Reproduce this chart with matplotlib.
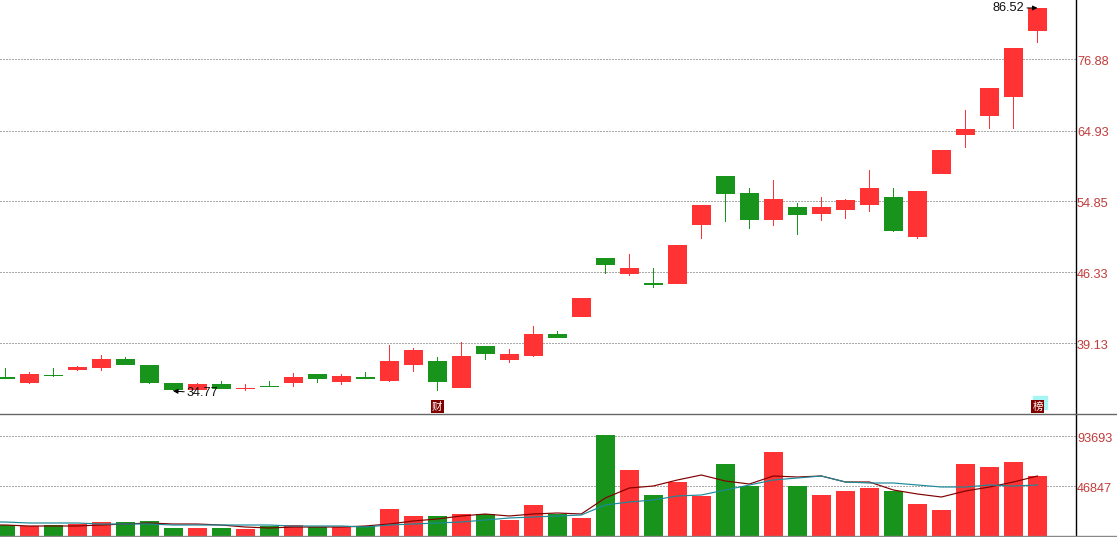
import matplotlib
matplotlib.use('Agg')
import matplotlib.pyplot as plt
import numpy as np
from matplotlib.lines import Line2D
from matplotlib.patches import Rectangle
from matplotlib.ticker import NullLocator, NullFormatter
from matplotlib.transforms import IdentityTransform, ScaledTranslation

plt.rcParams['font.family'] = ['Liberation Sans', 'DejaVu Sans']

opens = [36.13, 35.62, 36.31, 36.74, 36.92, 37.71, 37.18, 35.62, 35.03, 35.54, 35.12,
         35.37, 35.62, 36.39, 35.71, 36.13, 35.79, 37.18, 37.53, 35.20, 38.90, 37.62,
         37.98, 40.02, 41.67, 47.95, 46.16, 45.19, 45.08, 51.87, 58.27, 55.97, 52.49,
         54.13, 53.24, 53.75, 54.39, 55.44, 50.41, 58.55, 64.24, 67.21, 70.32, 82.27]
closes = [35.96, 36.39, 36.22, 37.01, 37.71, 37.18, 35.62, 35.03, 35.54, 35.12, 35.20,
          35.28, 36.13, 35.96, 36.22, 35.96, 37.53, 38.53, 35.71, 37.98, 38.16, 38.16,
          40.02, 39.64, 43.60, 47.16, 46.83, 44.97, 49.46, 54.39, 55.84, 52.49, 55.17,
          53.11, 54.13, 55.04, 56.64, 51.13, 56.24, 61.99, 65.17, 71.84, 79.01, 86.90]
highs = [36.92, 36.57, 36.92, 37.10, 38.07, 37.89, 37.18, 35.62, 35.62, 35.79, 35.54,
         35.79, 36.48, 36.39, 36.39, 36.57, 39.00, 38.71, 37.89, 39.27, 38.90, 38.62,
         40.79, 40.31, 43.60, 47.95, 48.41, 46.83, 49.46, 54.39, 58.27, 56.64, 57.72,
         54.65, 55.44, 55.17, 59.11, 56.64, 56.24, 61.99, 68.18, 71.84, 79.01, 86.90]
lows = [35.96, 35.54, 36.13, 36.65, 36.65, 37.18, 35.54, 34.95, 35.03, 35.12, 34.95,
        35.28, 35.28, 35.62, 35.45, 35.96, 35.71, 36.57, 34.95, 35.20, 37.62, 37.36,
        37.89, 39.64, 41.67, 46.16, 45.94, 44.65, 45.08, 50.17, 52.24, 51.38, 51.74,
        50.65, 52.36, 52.61, 53.49, 51.01, 50.17, 58.55, 62.29, 65.17, 65.17, 79.95]

volumes = [10300, 9370, 10300, 11240, 13120, 13120, 14060, 7500, 7500, 7500, 6560,
           9370, 10300, 8430, 8430, 9370, 25300, 18740, 18740, 20610, 20610, 14990,
           29050, 20610, 16870, 94600, 61800, 38420, 50600, 37480, 67500, 46850,
           78700, 46850, 38420, 42170, 44980, 42170, 29980, 24360, 67500, 64650,
           69300, 56220]
# both averages start one bar left of the window
ma_short = [10300, 10300, 9370, 9370, 9370, 10300, 11240, 12180, 11240, 11240, 10300, 8430,
            7500, 8430, 8430, 8430, 9370, 11240, 14060, 15930, 18740, 20610, 18740,
            20610, 21550, 20610, 35610, 44980, 46850, 52470, 57160, 51540, 48720,
            56220, 55280, 56220, 50600, 50600, 43100, 39350, 36540, 42170, 45910,
            50600, 56220]
ma_long = [13120, 13120, 12180, 12180, 12180, 11240, 11240, 11240, 10300, 10300, 10300, 10300,
           10300, 9370, 9370, 9370, 8430, 10300, 11240, 12180, 13120, 14990, 16870,
           17800, 18740, 19680, 29050, 31860, 33730, 37480, 38420, 43100, 47790,
           52470, 54350, 56220, 50600, 49660, 49660, 47790, 45910, 45910, 47790,
           46850, 47790]

price_ticks = [39.13, 46.33, 54.85, 64.93, 76.88]
price_labels = ['39.13', '46.33', '54.85', '64.93', '76.88']
volume_ticks = [46847, 93693]
volume_labels = ['46847', '93693']
low_label = '34.77'
high_label = '86.52'

RED = '#ff3333'
GREEN = '#18941c'
TICK = '#c23b3b'
W, H = 1117, 537
x = np.arange(len(opens))
x_ma = np.arange(-1, len(opens))
xlim = (-5 / 24, 1070 / 24)

fig = plt.figure(figsize=(W / 100, H / 100), dpi=100)
ax = fig.add_axes([0, (H - 414) / H, 1075.5 / W, 414 / H])
vax = fig.add_axes([0, (H - 536) / H, 1075.5 / W, 121 / H])

colors = [RED if c >= o else GREEN for o, c in zip(opens, closes)]
tops = np.maximum(opens, closes)
bottoms = np.minimum(opens, closes)

# wicks as one pixel wide bars, lines come out grey here
ax.bar(x, np.array(highs) - np.array(lows), bottom=lows, width=1 / 24, color=colors, antialiased=False, zorder=2)
ax.bar(x, tops - bottoms, bottom=bottoms, width=19 / 24, color=colors, antialiased=False, zorder=3)
ax.set_yscale('log')
ax.set_ylim(33.09, 88.56)
ax.set_yticks(price_ticks, labels=price_labels)
ax.yaxis.set_minor_locator(NullLocator())
ax.yaxis.set_minor_formatter(NullFormatter())

vax.bar(x, volumes, width=19 / 24, color=colors, antialiased=False, zorder=3)
vax.plot(x_ma, ma_short, color='#800000', linewidth=0.85, zorder=4)
vax.plot(x_ma, ma_long, color='#1a8a9a', linewidth=0.85, zorder=4)
vax.set_ylim(0, 113380)
vax.set_yticks(volume_ticks, labels=volume_labels)

# labels sit a pixel lower than matplotlib centres them
nudge = ScaledTranslation(0, -1 / 100, fig.dpi_scale_trans)
for a in (ax, vax):
    a.set_xlim(xlim)
    a.set_xticks([])
    a.yaxis.tick_right()
    a.tick_params(axis='y', length=0, pad=1, labelsize=9.2, labelcolor=TICK)
    a.grid(axis='y', color='#555555', linewidth=0.72, linestyle=(0, (1, 2)))
    a.set_axisbelow(True)
    a.patch.set_alpha(0)
    for s in ('top', 'left', 'bottom'):
        a.spines[s].set_visible(False)
    a.spines['right'].set_color('black')
    a.spines['right'].set_linewidth(1.0)
    for t in a.get_yticklabels():
        t.set_transform(t.get_transform() + nudge)

# separators run the whole width, past the axis line
fig.add_artist(Line2D([0, W], [H - 414, H - 414], color='#666666', linewidth=1.0, transform=IdentityTransform()))
fig.add_artist(Line2D([0, W], [H - 535.5, H - 535.5], color='#888888', linewidth=1.0, transform=IdentityTransform()))

arrow = dict(arrowstyle='-|>,head_length=0.3,head_width=0.15', color='black', linewidth=0.72, shrinkA=0, shrinkB=0)
ax.annotate(high_label, xy=(43, highs[43]), xytext=(-9.5, 0), textcoords='offset points',
            ha='right', va='center', fontsize=9.2, color='#111111', arrowprops=arrow, zorder=5)
ax.annotate(low_label, xy=(7, lows[7]), xytext=(10, -1.5), textcoords='offset points',
            ha='left', va='center', fontsize=9.2, color='#111111', arrowprops=arrow, zorder=5)

# event badges sit on the bottom edge of the price panel
badge_tr = ax.get_xaxis_transform()
ax.add_patch(Rectangle((1033, H - 409), 14, 13, color='#a5f5f5', transform=IdentityTransform(), zorder=5))
for pos, label in ((18, '财'), (43, '榜')):
    ax.text(pos, 0.018, label, transform=badge_tr, ha='center', va='center', fontsize=7.5,
            color='white', family=['Noto Sans CJK SC', 'DejaVu Sans'], zorder=6,
            bbox=dict(facecolor='#800000', edgecolor='none', pad=0.9))

plt.savefig('out.png', dpi=100)
